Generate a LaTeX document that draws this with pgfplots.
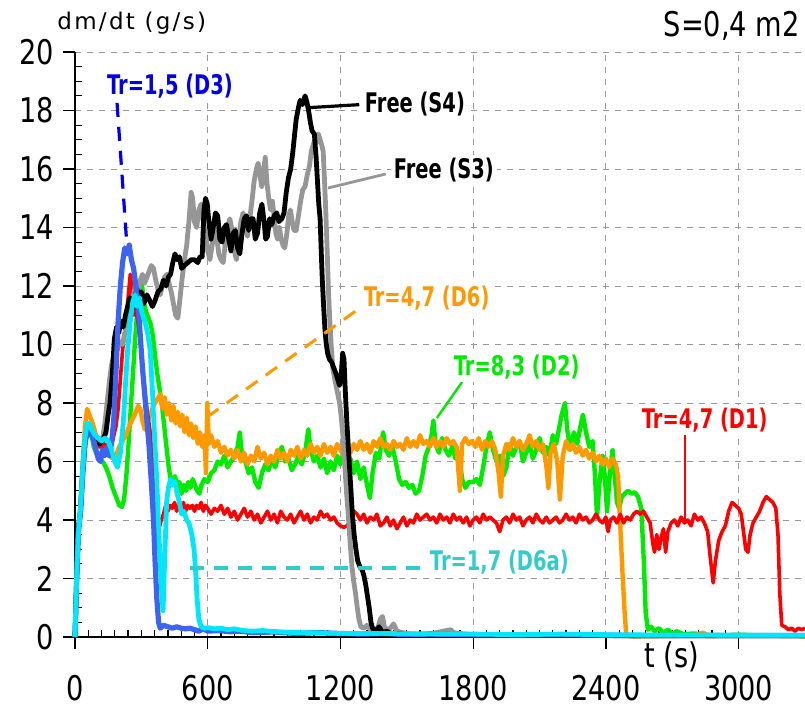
\documentclass[border=0pt]{standalone}
\usepackage{fontspec}
\setmainfont{DejaVu Sans}[FakeStretch=0.9]
\newfontfamily\tickfont{DejaVu Sans}[FakeStretch=0.8]
\newfontfamily\labfont{DejaVu Sans}[FakeStretch=0.72]
\newfontfamily\lsfont{DejaVu Sans}[LetterSpace=10]
\usepackage{pgfplots}
\pgfplotsset{compat=1.18}
\definecolor{cblue}{RGB}{60,100,240}
\definecolor{lblue}{RGB}{0,0,230}
\definecolor{cred}{RGB}{255,0,0}
\definecolor{cgreen}{RGB}{0,235,0}
\definecolor{corange}{RGB}{255,153,0}
\definecolor{ccyan}{RGB}{0,230,250}
\definecolor{lcyan}{RGB}{51,204,204}
\definecolor{cgray}{RGB}{150,150,150}
\begin{document}
\begin{tikzpicture}
\begin{axis}[
  at={(0,0)}, anchor=south west,
  scale only axis, width=365pt, height=292.5pt,
  xmin=0, xmax=3300, ymin=0, ymax=20,
  xtick={0,600,...,3000}, ytick={0,2,...,20},
  minor x tick num=9, minor y tick num=3,
  axis lines=left, axis line style={-, black},
  x axis line style={line width=1.3pt},
  y axis line style={line width=0.8pt},
  tick align=outside, major tick length=6pt, minor tick length=-3.5pt,
  tick style={black, line width=0.6pt},
  grid=major, major grid style={dashed, gray!80, line width=0.5pt},
  /pgf/number format/assume math mode=true,
  /pgf/number format/1000 sep={},
  tick label style={font=\tickfont\fontsize{17}{17}\selectfont},
  xticklabel style={yshift=-9.5pt},
  yticklabel style={xshift=-1pt},
  clip=false,
  line join=round,
]
% green D2
\addplot[cgreen, line width=2.2pt] coordinates {(0,0)(8,2.2)(15,3.6)(25,4.3)(35,5.7)(45,6.7)(55,7.2)(65,7.2)(75,6.9)(85,6.5)(95,6.3)(110,6.1)(125,6.0)(140,5.8)(155,5.5)(170,5.1)(185,4.8)(200,4.5)(212,4.45)(222,4.7)(232,5.5)(242,6.6)(252,7.8)(262,9.0)(272,10.2)(282,11.2)(292,11.8)(302,12.1)(312,11.4)(322,11.1)(332,10.9)(342,10.7)(352,10.3)(362,9.6)(372,9.0)(382,8.5)(392,8.0)(402,7.3)(412,6.6)(422,5.9)(432,5.4)(442,5.2)(452,5.5)(462,5.1)(472,5.3)(482,4.9)(492,5.2)(502,5.0)(512,5.3)(522,5.1)(532,5.4)(542,5.2)(552,5.0)(562,4.9)(572,5.2)(585,5.4)(600,5.3)(615,5.6)(630,5.7)(645,6.0)(660,5.9)(675,6.2)(690,5.8)(705,6.0)(720,6.2)(735,6.5)(745,7.0)(755,6.2)(770,6.0)(785,5.6)(800,5.8)(815,5.3)(830,5.1)(845,5.6)(860,5.9)(875,5.7)(890,6.1)(905,5.8)(920,6.2)(935,6.5)(950,6.0)(965,6.1)(980,5.7)(995,5.9)(1010,6.2)(1025,5.9)(1040,6.3)(1055,7.1)(1065,6.4)(1080,6.0)(1095,6.2)(1110,5.8)(1125,6.1)(1140,5.6)(1155,6.0)(1170,5.7)(1185,6.2)(1200,5.9)(1215,6.3)(1230,5.7)(1245,6.1)(1260,5.6)(1275,6.0)(1290,5.4)(1305,5.8)(1320,5.2)(1333,4.75)(1345,5.6)(1360,6.3)(1375,6.1)(1393,7.0)(1405,6.4)(1420,6.2)(1435,6.5)(1450,6.0)(1465,5.4)(1480,5.2)(1495,5.3)(1510,5.1)(1525,5.2)(1540,4.9)(1555,5.0)(1570,5.5)(1585,6.2)(1600,6.5)(1612,6.9)(1620,7.4)(1630,6.6)(1645,6.3)(1660,6.8)(1675,6.4)(1690,6.2)(1705,6.5)(1720,6.1)(1735,6.3)(1750,5.4)(1765,5.1)(1780,5.3)(1800,5.3)(1815,5.4)(1830,5.2)(1845,5.8)(1860,6.5)(1875,7.0)(1890,6.4)(1905,6.0)(1920,6.2)(1935,5.5)(1950,5.8)(1965,6.6)(1980,6.2)(1995,6.5)(2010,6.7)(2025,6.0)(2040,6.3)(2055,6.6)(2070,6.1)(2085,6.4)(2100,6.8)(2115,6.3)(2130,6.5)(2145,6.2)(2160,6.9)(2175,6.6)(2190,7.2)(2200,7.6)(2215,8.0)(2225,7.1)(2240,6.4)(2255,7.0)(2270,6.6)(2285,7.2)(2296,7.6)(2310,7.0)(2325,6.5)(2340,6.7)(2350,5.6)(2360,4.1)(2370,5.2)(2385,6.2)(2395,5.5)(2405,4.3)(2418,5.6)(2430,6.4)(2440,5.5)(2450,4.6)(2460,4.4)(2472,4.8)(2485,4.9)(2500,5.0)(2515,4.9)(2530,4.95)(2545,4.8)(2560,4.4)(2572,2.5)(2580,0.8)(2590,0.25)(2605,0.35)(2620,0.2)(2640,0.3)(2660,0.15)(2680,0.25)(2700,0.1)(2720,0.2)(2750,0.1)(2800,0.12)(2850,0.08)(2900,0.05)(3000,0.08)(3100,0.05)(3300,0.03)};
% orange D6
\addplot[corange, line width=2.2pt] coordinates {(0,0)(8,2.2)(15,3.5)(25,4.6)(35,6.0)(45,7.2)(55,7.8)(65,7.6)(80,7.3)(95,6.9)(110,6.6)(125,6.4)(140,6.3)(155,6.2)(170,6.1)(185,6.2)(200,6.5)(215,6.7)(230,6.9)(250,7.3)(270,7.6)(285,7.9)(295,7.8)(305,7.4)(315,7.1)(325,7.3)(340,7.6)(355,7.9)(370,8.1)(385,8.3)(395,7.8)(405,8.2)(415,7.6)(425,8.0)(435,7.4)(445,7.9)(455,7.3)(465,7.7)(475,7.2)(485,7.6)(495,7.0)(505,7.5)(515,6.9)(525,7.3)(535,6.8)(545,7.2)(555,6.6)(565,7.0)(575,6.5)(585,6.9)(592,5.6)(598,8.0)(605,6.6)(615,6.9)(630,6.5)(645,6.7)(660,6.3)(675,6.5)(690,6.2)(705,6.4)(720,6.1)(735,6.4)(750,6.0)(765,6.3)(780,5.9)(795,6.2)(810,6.0)(825,6.5)(840,6.1)(855,6.3)(870,5.9)(885,6.2)(900,6.0)(915,6.4)(930,6.1)(945,6.3)(960,6.0)(975,6.4)(990,6.2)(1005,6.5)(1020,6.1)(1035,6.4)(1050,6.2)(1065,6.6)(1080,6.3)(1095,6.5)(1110,6.2)(1125,6.6)(1140,6.3)(1155,6.5)(1170,6.2)(1185,6.6)(1200,6.4)(1215,6.2)(1230,6.5)(1245,6.3)(1260,6.6)(1275,6.4)(1290,6.7)(1305,6.4)(1320,6.6)(1335,6.3)(1350,6.7)(1365,6.5)(1380,6.8)(1395,6.5)(1410,6.6)(1425,6.4)(1440,6.7)(1455,6.5)(1470,6.6)(1485,6.4)(1500,6.8)(1515,6.5)(1530,6.7)(1545,6.5)(1560,6.9)(1575,6.6)(1590,6.7)(1605,6.5)(1620,6.8)(1635,6.5)(1650,6.7)(1665,6.5)(1680,6.8)(1695,6.6)(1710,6.7)(1725,6.5)(1740,5.0)(1750,6.6)(1765,6.8)(1780,6.6)(1795,6.7)(1810,6.5)(1825,6.8)(1840,6.4)(1855,6.7)(1870,6.5)(1885,6.7)(1900,6.4)(1915,5.6)(1925,4.8)(1935,6.2)(1950,6.6)(1965,6.4)(1980,6.8)(1995,6.5)(2010,6.7)(2025,6.4)(2040,6.6)(2055,6.9)(2070,6.5)(2085,6.7)(2100,6.4)(2115,6.6)(2130,5.9)(2140,5.1)(2150,6.3)(2165,6.6)(2180,6.0)(2192,4.7)(2205,6.2)(2220,6.7)(2235,6.4)(2250,6.6)(2265,6.3)(2280,6.5)(2295,6.2)(2310,6.4)(2325,6.1)(2340,6.3)(2355,6.0)(2370,6.2)(2385,5.9)(2400,6.1)(2415,5.8)(2430,6.1)(2445,5.9)(2455,5.5)(2465,3.8)(2475,2.2)(2485,0.8)(2492,0.05)(2520,0.02)(2800,0.05)(2840,0.15)(2860,0.03)(3100,0.05)(3300,0.03)};
% red D1
\addplot[cred, line width=1.8pt] coordinates {(0,0)(8,2.4)(15,3.9)(25,4.2)(35,5.5)(45,6.6)(55,7.0)(65,7.0)(80,6.8)(95,6.6)(110,6.5)(125,6.5)(140,6.6)(155,6.5)(170,6.7)(185,7.2)(195,7.8)(205,8.8)(215,9.8)(228,10.6)(240,11.6)(250,12.4)(258,11.8)(265,11.0)(275,11.2)(288,10.6)(300,9.8)(312,8.7)(325,7.8)(340,7.0)(352,5.8)(362,4.5)(370,3.4)(380,3.7)(390,4.0)(400,4.2)(410,4.5)(420,4.3)(430,4.5)(440,4.4)(450,4.6)(460,4.3)(470,4.5)(480,4.4)(490,4.6)(500,4.3)(510,4.5)(520,4.4)(530,4.5)(540,4.3)(550,4.5)(560,4.4)(570,4.6)(580,4.3)(590,4.5)(600,4.4)(615,4.2)(630,4.4)(645,4.3)(660,4.5)(675,4.2)(690,4.4)(705,4.1)(720,4.3)(735,4.0)(750,4.2)(765,4.4)(780,4.1)(795,4.3)(810,4.0)(825,4.2)(840,3.9)(855,4.1)(870,4.3)(885,4.0)(900,4.2)(915,3.9)(930,4.3)(945,4.1)(960,4.0)(975,4.2)(990,3.9)(1005,4.1)(1020,4.3)(1035,4.0)(1050,4.2)(1065,3.9)(1080,4.1)(1095,4.0)(1110,4.3)(1125,4.1)(1140,4.2)(1155,4.0)(1170,4.1)(1185,3.9)(1200,3.8)(1215,3.75)(1230,3.8)(1245,4.0)(1260,4.3)(1275,4.2)(1290,4.0)(1305,4.2)(1320,3.9)(1335,4.1)(1350,4.0)(1365,4.2)(1380,3.8)(1395,3.9)(1410,4.1)(1425,3.8)(1440,4.0)(1455,3.7)(1470,3.9)(1485,4.1)(1500,3.8)(1515,4.0)(1530,3.9)(1545,4.2)(1560,4.0)(1575,4.1)(1590,4.2)(1605,4.0)(1620,4.1)(1635,3.9)(1650,4.2)(1665,4.0)(1680,4.1)(1695,3.9)(1710,4.2)(1725,4.0)(1740,4.1)(1755,3.9)(1770,4.1)(1785,3.8)(1800,4.0)(1815,4.1)(1830,3.9)(1845,4.2)(1860,4.0)(1875,4.1)(1890,4.0)(1905,3.9)(1920,3.6)(1935,4.0)(1950,4.1)(1965,3.9)(1980,4.2)(1995,4.0)(2010,4.1)(2025,3.8)(2040,4.0)(2055,4.1)(2070,3.9)(2085,4.2)(2100,4.0)(2115,3.9)(2130,4.1)(2145,3.9)(2160,4.0)(2175,4.1)(2190,3.9)(2205,4.0)(2220,4.2)(2235,4.0)(2250,4.1)(2265,3.9)(2280,4.2)(2295,4.0)(2310,4.1)(2325,3.9)(2340,4.0)(2355,4.2)(2370,4.0)(2385,3.9)(2400,4.1)(2410,3.6)(2420,4.0)(2435,4.1)(2450,3.9)(2465,4.2)(2480,3.9)(2495,4.1)(2510,4.0)(2525,4.2)(2540,4.3)(2555,4.2)(2570,4.3)(2585,4.1)(2600,3.9)(2612,3.2)(2620,2.9)(2630,3.5)(2640,3.0)(2650,3.4)(2660,3.7)(2670,2.9)(2680,3.6)(2695,3.9)(2710,4.0)(2725,3.8)(2740,4.1)(2755,3.9)(2770,4.0)(2785,3.8)(2800,4.2)(2815,4.0)(2830,4.1)(2845,3.9)(2860,3.6)(2872,2.7)(2885,1.85)(2895,2.6)(2910,3.3)(2925,3.6)(2940,3.8)(2955,4.3)(2970,4.6)(2985,4.5)(3000,4.4)(3012,4.2)(3022,3.6)(3032,3.0)(3042,2.9)(3052,3.5)(3065,3.9)(3080,4.1)(3095,4.3)(3110,4.6)(3125,4.8)(3140,4.7)(3155,4.6)(3168,4.4)(3178,3.5)(3186,1.5)(3195,0.4)(3210,0.35)(3225,0.25)(3240,0.3)(3255,0.2)(3270,0.3)(3285,0.25)(3300,0.3)};
% gray S3
\addplot[cgray, line width=2.4pt] coordinates {(0,0)(8,2.2)(15,3.6)(25,4.3)(35,5.6)(45,6.6)(55,7.2)(65,7.2)(80,6.9)(95,6.7)(110,6.6)(125,6.8)(135,7.3)(145,8.0)(155,8.7)(165,9.3)(175,9.6)(185,9.7)(195,9.9)(205,10.1)(215,10.0)(225,10.4)(235,10.6)(245,11.0)(255,11.3)(265,11.7)(275,12.1)(285,11.8)(295,12.2)(305,12.4)(315,12.1)(325,12.3)(335,12.5)(345,12.7)(355,12.6)(365,12.2)(375,11.9)(385,11.7)(395,12.0)(405,12.3)(415,12.4)(425,12.1)(435,11.8)(445,11.4)(455,11.0)(465,10.9)(475,11.6)(485,12.3)(495,12.9)(505,13.4)(515,14.2)(525,15.2)(532,15.0)(540,14.2)(550,14.0)(560,14.6)(570,14.8)(580,14.2)(590,13.8)(600,13.2)(610,12.9)(620,13.4)(630,13.9)(640,13.7)(650,13.1)(660,12.9)(670,12.8)(680,13.5)(690,14.0)(700,14.3)(710,13.9)(720,13.2)(730,12.9)(740,13.6)(750,14.2)(760,14.5)(770,14.0)(780,13.7)(790,14.3)(800,14.9)(810,15.6)(820,16.0)(828,16.2)(836,15.8)(844,15.4)(852,15.9)(860,16.4)(868,15.5)(876,15.0)(884,14.6)(892,14.9)(900,14.4)(908,13.8)(916,13.6)(924,14.0)(932,13.6)(940,13.4)(948,13.3)(958,13.8)(966,14.4)(974,14.6)(982,14.2)(990,13.9)(1000,13.9)(1010,14.4)(1020,14.9)(1030,15.3)(1040,15.4)(1050,15.8)(1060,16.1)(1068,16.6)(1076,16.8)(1084,17.0)(1092,16.9)(1100,17.2)(1108,17.0)(1116,16.8)(1122,16.6)(1128,15.6)(1134,14.5)(1140,13.2)(1146,11.8)(1152,10.8)(1158,10.0)(1165,9.2)(1172,8.9)(1180,8.6)(1188,8.3)(1196,8.0)(1204,7.5)(1212,6.8)(1220,5.8)(1228,4.9)(1236,4.1)(1244,3.2)(1252,2.4)(1260,1.9)(1268,1.5)(1276,1.0)(1284,0.6)(1292,0.35)(1305,0.3)(1320,0.4)(1335,0.25)(1350,0.3)(1365,0.2)(1380,0.6)(1390,0.7)(1400,0.3)(1420,0.25)(1440,0.45)(1455,0.2)(1480,0.15)(1520,0.1)(1600,0.1)(1700,0.25)(1710,0.15)(1800,0.06)(2200,0.05)(3300,0.04)};
% black S4
\addplot[black, line width=2.4pt] coordinates {(0,0)(8,2.2)(15,3.6)(25,4.3)(35,5.6)(45,6.6)(55,7.2)(65,7.2)(80,6.9)(95,6.7)(110,6.6)(125,6.7)(140,7.0)(150,7.6)(158,8.0)(168,8.9)(178,10.2)(188,10.6)(198,10.4)(208,10.8)(218,10.6)(228,11.0)(238,11.3)(248,11.6)(258,11.2)(268,11.5)(280,11.9)(290,11.6)(300,11.8)(312,11.4)(325,11.7)(338,11.5)(350,11.3)(362,11.5)(375,11.8)(388,11.9)(400,12.2)(412,12.0)(422,12.3)(432,12.4)(442,12.8)(452,13.1)(462,12.9)(472,13.0)(482,12.6)(495,12.7)(510,12.8)(525,12.9)(540,12.9)(555,12.8)(565,13.0)(575,13.0)(583,14.6)(590,15.0)(598,14.8)(605,14.2)(615,13.6)(625,14.0)(635,14.5)(645,14.4)(655,13.6)(665,13.5)(675,14.0)(685,14.1)(695,13.6)(705,13.2)(715,13.8)(725,13.9)(735,13.3)(745,13.1)(755,13.8)(765,14.3)(775,14.4)(785,13.9)(795,14.3)(805,14.3)(815,13.6)(825,13.8)(835,14.5)(845,14.8)(855,14.2)(862,13.6)(870,13.7)(880,14.3)(890,14.1)(900,14.4)(912,14.5)(922,14.2)(935,14.3)(945,14.5)(955,15.2)(965,15.7)(975,16.0)(985,16.6)(993,17.2)(1000,17.7)(1010,18.1)(1018,18.35)(1028,18.2)(1040,18.5)(1048,18.3)(1056,18.0)(1064,17.6)(1072,17.3)(1082,17.2)(1090,16.4)(1096,15.6)(1102,14.8)(1108,14.3)(1114,13.0)(1118,12.2)(1124,11.3)(1130,10.5)(1136,10.0)(1142,9.7)(1150,9.5)(1160,9.4)(1170,9.2)(1180,9.0)(1188,8.8)(1196,8.6)(1204,9.0)(1210,9.7)(1216,9.5)(1222,8.4)(1230,7.2)(1238,6.2)(1246,5.2)(1254,4.2)(1262,3.5)(1270,3.0)(1278,2.6)(1288,2.4)(1298,2.3)(1306,2.1)(1314,1.8)(1322,1.4)(1330,1.0)(1338,0.5)(1345,0.3)(1360,0.2)(1375,0.35)(1390,0.15)(1410,0.2)(1430,0.1)(1460,0.12)(1500,0.08)(1600,0.06)(1800,0.05)(2200,0.05)(3300,0.04)};
% blue D3
\addplot[cblue, line width=2.6pt] coordinates {(0,0)(8,2.0)(15,3.6)(25,4.3)(35,5.6)(45,6.6)(55,7.0)(65,7.1)(75,6.9)(85,6.7)(95,6.4)(105,6.1)(115,6.0)(125,6.4)(135,6.2)(145,6.5)(155,6.2)(165,6.6)(175,7.4)(185,9.0)(195,10.8)(205,12.0)(215,12.8)(225,13.3)(235,13.1)(245,13.4)(255,12.9)(265,12.6)(275,12.0)(285,11.4)(295,10.3)(305,9.2)(315,8.3)(325,7.4)(335,6.5)(345,5.3)(355,4.0)(362,2.6)(370,1.3)(378,0.5)(385,0.3)(400,0.4)(420,0.35)(440,0.3)(460,0.35)(480,0.3)(500,0.28)(520,0.3)(540,0.25)(560,0.2)(580,0.28)(600,0.2)(650,0.22)(700,0.18)(750,0.2)(800,0.15)(900,0.17)(1000,0.12)(1100,0.15)(1200,0.12)(1300,0.1)(1400,0.12)(1500,0.08)(1600,0.1)(1800,0.08)(2000,0.07)(2200,0.08)(2400,0.06)(2600,0.05)(3300,0.05)};
% cyan D6a
\addplot[ccyan, line width=2.4pt] coordinates {(0,0)(8,2.2)(15,3.5)(25,4.4)(35,5.8)(45,6.8)(55,7.3)(65,7.3)(75,7.1)(90,6.9)(105,6.8)(120,6.7)(135,6.8)(150,6.7)(165,6.4)(180,6.0)(192,5.8)(205,6.3)(218,7.3)(228,8.6)(238,9.8)(250,10.8)(262,11.5)(272,11.7)(282,11.3)(292,11.6)(302,11.1)(315,10.8)(328,10.4)(340,9.8)(350,8.4)(360,6.8)(370,5.3)(380,3.4)(390,1.8)(398,0.9)(406,2.8)(414,4.6)(422,5.1)(432,5.4)(442,5.2)(452,5.3)(462,4.9)(472,4.6)(482,4.2)(492,4.3)(505,4.0)(515,3.9)(528,3.5)(538,3.0)(545,2.3)(552,1.3)(560,0.6)(570,0.35)(585,0.3)(600,0.32)(630,0.28)(660,0.3)(690,0.25)(720,0.28)(760,0.22)(800,0.2)(850,0.22)(900,0.18)(1000,0.15)(1100,0.14)(1200,0.12)(1400,0.12)(1600,0.1)(1800,0.1)(2000,0.08)(2200,0.1)(2400,0.08)(2600,0.07)(2800,0.07)(3000,0.06)(3300,0.06)};
% annotations
\draw[lblue, line width=1.6pt, dash pattern=on 7pt off 5pt] (axis cs:190,18.26) -- (axis cs:235,13.35);
\draw[black, line width=1.6pt] (axis cs:1062,18.1) -- (axis cs:1285,18.2);
\draw[cgray, line width=1.4pt] (axis cs:1144,15.35) -- (axis cs:1405,15.83);
\draw[corange, line width=1.5pt, dash pattern=on 7pt off 5pt] (axis cs:597,7.52) -- (axis cs:1320,11.42);
\draw[cgreen, line width=1.2pt] (axis cs:1750,8.72) -- (axis cs:1636,7.49);
\draw[cred, line width=1.2pt] (axis cs:2757,7.05) -- (axis cs:2757,4.0);
\draw[lcyan, line width=1.6pt, dash pattern=on 7pt off 5pt] (axis cs:520,2.36) -- (axis cs:1565,2.36);
\tikzset{lab/.style={font=\labfont\bfseries\fontsize{13.5}{14}\selectfont, fill=white, inner sep=1.5pt, anchor=west}}
\node[lab, text=lblue, anchor=center] at (axis cs:429,18.84) {Tr=1,5 (D3)};
\node[lab, text=black] at (axis cs:1295,18.22) {Free (S4)};
\node[lab, text=black] at (axis cs:1426,15.97) {Free (S3)};
\node[lab, text=corange] at (axis cs:1290,11.59) {Tr=4,7 (D6)};
\node[lab, text=cgreen] at (axis cs:1697,9.23) {Tr=8,3 (D2)};
\node[lab, text=cred] at (axis cs:2547,7.42) {Tr=4,7 (D1)};
\node[lab, text=lcyan] at (axis cs:1589,2.56) {Tr=1,7 (D6a)};
\end{axis}
\node[anchor=base east, inner sep=0pt, font=\tickfont\fontsize{17}{17}\selectfont] at (362.5pt,300pt) {S=0,4 m2};
\node[anchor=base west, inner sep=0pt, font=\lsfont\fontsize{11.5}{12}\selectfont] at (-9pt,304pt) {dm/dt (g/s)};
\node[anchor=base west, inner sep=1pt, fill=white, font=\tickfont\fontsize{17}{17}\selectfont] at (283.5pt,-15pt) {t (s)};
\pgfresetboundingbox
\useasboundingbox (-37.5pt,-36pt) rectangle (365pt,318.5pt);
\end{tikzpicture}
\end{document}
